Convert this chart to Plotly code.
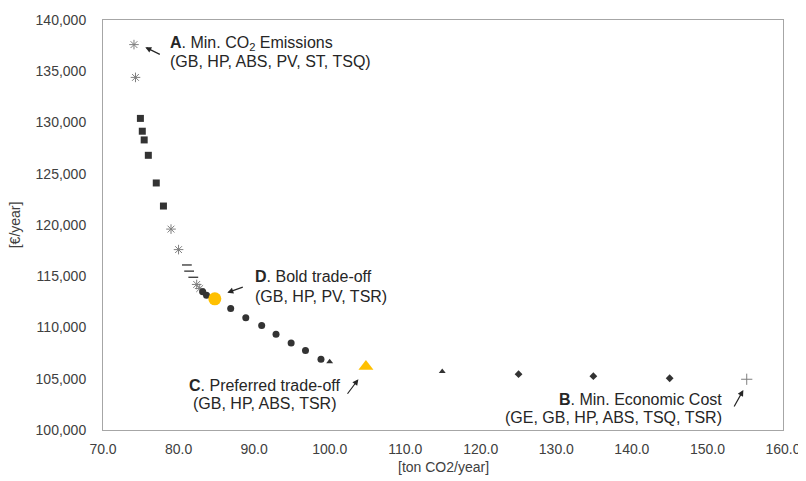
import plotly.graph_objects as go

# Data
star_x = [74.1, 74.3, 79.0, 80.0, 82.4, 82.8]
star_y = [137600, 134400, 119600, 117600, 114200, 113800]

square_x = [74.95, 75.2, 75.45, 76.0, 77.05, 78.0]
square_y = [130400, 129150, 128300, 126800, 124100, 121850]

dash_x = [81.1, 81.4, 81.95]
dash_y = [116100, 115500, 114900]

circle_x = [83.2, 83.7, 86.9, 88.9, 91.0, 92.9, 94.9, 96.8, 98.85]
circle_y = [113500, 113150, 111850, 110950, 110200, 109350, 108500, 107750, 106900]

tri_x = [100.0, 114.9]
tri_y = [106650, 105700]

diamond_x = [125.0, 134.9, 145.0]
diamond_y = [105450, 105250, 105050]

plus_x = [155.2]
plus_y = [104950]

bold_x = [84.8]
bold_y = [112800]

pref_x = [104.8]
pref_y = [106200]

x_ticks = [70, 80, 90, 100, 110, 120, 130, 140, 150, 160]
y_ticks = [100000, 105000, 110000, 115000, 120000, 125000, 130000, 135000, 140000]

dark = "#333333"
gray = "#7f7f7f"
orange = "#FFC000"
FAM = "Liberation Sans, Arial, sans-serif"

fig = go.Figure()
fig.add_trace(go.Scatter(x=star_x, y=star_y, mode="markers",
                         marker=dict(symbol="asterisk-open", size=8, color=gray, line=dict(color=gray, width=1))))
fig.add_trace(go.Scatter(x=square_x, y=square_y, mode="markers",
                         marker=dict(symbol="square", size=7, color=dark)))
fig.add_trace(go.Scatter(x=dash_x, y=dash_y, mode="markers",
                         marker=dict(symbol="line-ew-open", size=7, color=dark, line=dict(color=dark, width=1.3))))
fig.add_trace(go.Scatter(x=circle_x, y=circle_y, mode="markers",
                         marker=dict(symbol="circle", size=7, color=dark)))
fig.add_trace(go.Scatter(x=tri_x, y=tri_y, mode="markers",
                         marker=dict(symbol="triangle-up", size=6, color=dark)))
fig.add_trace(go.Scatter(x=diamond_x, y=diamond_y, mode="markers",
                         marker=dict(symbol="diamond", size=6, color=dark)))
fig.add_trace(go.Scatter(x=plus_x, y=plus_y, mode="markers",
                         marker=dict(symbol="cross-thin-open", size=8, color=gray, line=dict(color=gray, width=1))))
fig.add_trace(go.Scatter(x=bold_x, y=bold_y, mode="markers",
                         marker=dict(symbol="circle", size=13, color=orange)))
fig.add_trace(go.Scatter(x=pref_x, y=pref_y, mode="markers",
                         marker=dict(symbol="triangle-up", size=13, color=orange)))

font = dict(family=FAM, size=16, color="#262626")

def label(x, y, text, xanchor="left"):
    fig.add_annotation(x=x, y=y, xref="x", yref="y", text=text, showarrow=False,
                       xanchor=xanchor, yanchor="middle", align=xanchor, font=font)

def arrow(x, y, ax, ay):
    fig.add_annotation(x=x, y=y, xref="x", yref="y", ax=ax, ay=ay, text="",
                       showarrow=True, arrowhead=2, arrowsize=1, arrowwidth=1.2,
                       arrowcolor="#262626")

label(78.64, 137660, "<b>A</b>. Min. CO<sub>2</sub> Emissions")
label(78.64, 136000, "(GB, HP, ABS, PV, ST, TSQ)")
arrow(75.6, 137350, 16, 8)

label(89.9, 114930, "<b>D</b>. Bold trade-off")
label(89.9, 113050, "(GB, HP, PV, TSR)")
arrow(86.45, 113400, 17, -6)

label(91.4, 104320, "<b>C</b>. Preferred trade-off", xanchor="center")
label(91.4, 102600, "(GB, HP, ABS, TSR)", xanchor="center")
arrow(103.8, 104950, -12, 16)

label(152.2, 102995, "<b>B</b>. Min. Economic Cost", xanchor="right")
label(152.2, 101240, "(GE, GB, HP, ABS, TSQ, TSR)", xanchor="right")
arrow(154.75, 103900, -10, 18)

title_font = dict(family=FAM, size=14, color="#404040")
fig.add_annotation(x=0.5, y=-0.09, xref="paper", yref="paper", text="[ton CO2/year]",
                   showarrow=False, xanchor="center", yanchor="middle", font=title_font)
fig.add_annotation(x=-0.129, y=0.5, xref="paper", yref="paper", text="[€/year]", textangle=-90,
                   showarrow=False, xanchor="center", yanchor="middle", font=title_font)

axis_common = dict(showgrid=False, zeroline=False, showline=True, mirror=True,
                   linecolor="#A6A6A6", linewidth=1, ticks="outside",
                   tickcolor="rgba(0,0,0,0)", automargin=False,
                   tickfont=dict(family=FAM, size=14, color="#404040"))

# page body has an 8px margin, so figure is sized to fit the 806x481 window
fig.update_layout(
    width=798, height=473,
    margin=dict(l=95, r=23, t=12, b=51),
    paper_bgcolor="white", plot_bgcolor="white",
    showlegend=False,
    xaxis=dict(range=[70, 160], tickvals=x_ticks, ticktext=[f"{v:.1f}" for v in x_ticks],
               ticklen=6, **axis_common),
    yaxis=dict(range=[100000, 140000], tickvals=y_ticks, ticktext=[f"{v:,}" for v in y_ticks],
               ticklen=13, **axis_common),
)

fig.write_html("out.html")
